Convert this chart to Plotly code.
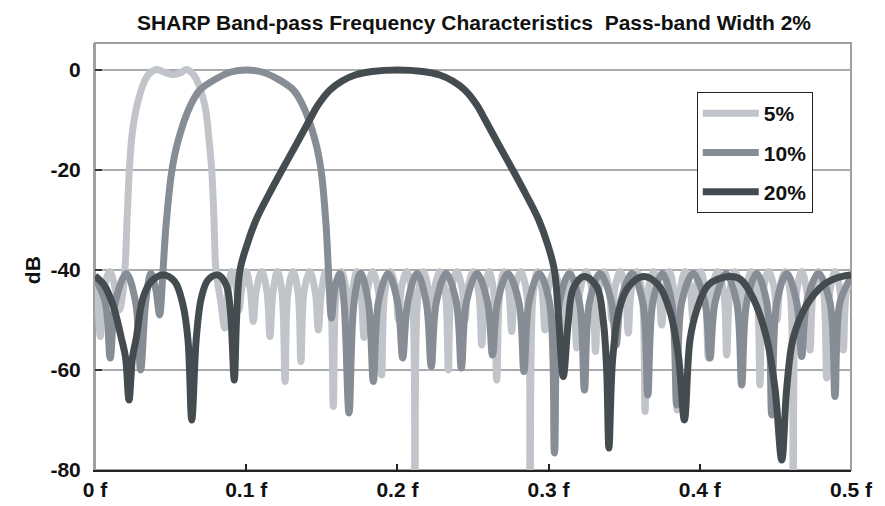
import plotly.graph_objects as go

# ---------------- data ----------------
freq_5 = [0.0000, 0.0017, 0.0035, 0.0053, 0.0097, 0.0132, 0.0162, 0.0182,
          0.0198, 0.0212, 0.0227, 0.0245, 0.0276, 0.0331, 0.0364, 0.0408,
          0.0463, 0.0518, 0.0569, 0.0606, 0.0642, 0.0673, 0.0728, 0.0751,
          0.0772, 0.0787, 0.0800, 0.0830, 0.0858,
          0.0878, 0.0905, 0.0933, 0.0952, 0.0972, 0.1000, 0.1027, 0.1047,
          0.1067, 0.1103, 0.1138, 0.1157, 0.1177, 0.1207, 0.1237, 0.1257,
          0.1276, 0.1310, 0.1343, 0.1362, 0.1382, 0.1420, 0.1457, 0.1477,
          0.1497, 0.1526, 0.1556, 0.1576, 0.1596, 0.1630, 0.1663, 0.1683,
          0.1703, 0.1731, 0.1759, 0.1779, 0.1799, 0.1837, 0.1876, 0.1896,
          0.1916, 0.1952, 0.1987, 0.2007, 0.2027, 0.2062, 0.2097, 0.2116,
          0.2136, 0.2171, 0.2206, 0.2226, 0.2245, 0.2281, 0.2317, 0.2337,
          0.2356, 0.2392, 0.2427, 0.2447, 0.2467, 0.2502, 0.2538, 0.2558,
          0.2577, 0.2607, 0.2637, 0.2657, 0.2677, 0.2706, 0.2736, 0.2756,
          0.2776, 0.2816, 0.2857, 0.2877, 0.2897, 0.2927, 0.2956, 0.2976,
          0.2996, 0.3036, 0.3075, 0.3095, 0.3115, 0.3140, 0.3166, 0.3186,
          0.3206, 0.3248, 0.3290, 0.3310, 0.3330, 0.3365, 0.3399, 0.3419,
          0.3439, 0.3474, 0.3507, 0.3527, 0.3547, 0.3583, 0.3618, 0.3638,
          0.3657, 0.3693, 0.3728, 0.3748, 0.3768, 0.3799, 0.3829, 0.3849,
          0.3869, 0.3902, 0.3935, 0.3955, 0.3975, 0.4006, 0.4036, 0.4056,
          0.4076, 0.4117, 0.4158, 0.4178, 0.4198, 0.4232, 0.4266, 0.4286,
          0.4306, 0.4342, 0.4378, 0.4398, 0.4418, 0.4454, 0.4491, 0.4511,
          0.4530, 0.4565, 0.4599, 0.4618, 0.4638, 0.4674, 0.4709, 0.4729,
          0.4749, 0.4784, 0.4819, 0.4839, 0.4859, 0.4894, 0.4929, 0.4949,
          0.4969, 0.5000]
db_5 = [-43, -46, -53.3, -45, -40.3, -43.5, -48, -45,
        -40, -30, -20, -13, -7.3, -2, -0.6, 0.1,
        -0.5, -0.9, -0.5, 0.1, -0.6, -2, -7.3, -13,
        -20, -30, -40, -46, -51.6,
        -44.5, -40.3, -43.5, -48, -43.5, -40.3, -44, -50.3,
        -44, -40.3, -44.5, -53.3, -44.5, -40.3, -44.5, -62.3,
        -44.5, -40.3, -44.5, -58.3, -44.5, -40.3, -44.5, -52,
        -44.5, -40.3, -44.5, -67.3, -44.5, -40.3, -44.5, -55,
        -44.5, -40.3, -44.5, -53.5, -44.5, -40.3, -44.5, -61,
        -44.5, -40.3, -43.5, -50, -43.5, -40.3, -45, -85,
        -45, -40.3, -44, -52, -44, -40.3, -44.5, -60,
        -44.5, -40.3, -43.5, -50, -43.5, -40.3, -44.5, -55,
        -44.5, -40.3, -44.5, -62, -44.5, -40.3, -44, -52.3,
        -44, -40.3, -45, -85, -45, -40.3, -44, -52,
        -44, -40.3, -44.5, -61, -44.5, -40.3, -44.5, -55.6,
        -44.5, -40.3, -44.5, -56.3, -44.5, -40.3, -43.5, -50,
        -43.5, -40.3, -44, -52.6, -44, -40.3, -44.5, -68.3,
        -44.5, -40.3, -44, -51, -44, -40.3, -44.5, -68,
        -44.5, -40.3, -43.5, -50, -43.5, -40.3, -44.5, -57.6,
        -44.5, -40.3, -44.5, -57, -44.5, -40.3, -43.5, -50,
        -43.5, -40.3, -44.5, -63, -44.5, -40.3, -43.5, -50,
        -43.5, -40.3, -45, -85, -45, -40.3, -44.5, -56,
        -44.5, -40.3, -44.5, -61.6, -44.5, -40.3, -44.5, -56,
        -44.5, -41.5]

freq_10 = [0.0000, 0.0068, 0.0101, 0.0134, 0.0207, 0.0269, 0.0302, 0.0335,
           0.0370, 0.0403, 0.0427, 0.0450, 0.0470, 0.0509, 0.0551, 0.0628,
           0.0694, 0.0805, 0.0899, 0.1000, 0.1104, 0.1202, 0.1312, 0.1378,
           0.1455, 0.1495, 0.1528, 0.1544, 0.1564, 0.1587, 0.1620, 0.1647,
           0.1680, 0.1713, 0.1756, 0.1808, 0.1841, 0.1874, 0.1938, 0.2002,
           0.2035, 0.2068, 0.2130, 0.2191, 0.2224, 0.2257, 0.2323, 0.2390,
           0.2423, 0.2456, 0.2526, 0.2596, 0.2629, 0.2662, 0.2731, 0.2804,
           0.2837, 0.2870, 0.2937, 0.3006, 0.3039, 0.3072, 0.3138, 0.3204,
           0.3237, 0.3270, 0.3340, 0.3413, 0.3446, 0.3479, 0.3552, 0.3623,
           0.3656, 0.3689, 0.3752, 0.3814, 0.3847, 0.3880, 0.3957, 0.4034,
           0.4067, 0.4101, 0.4173, 0.4244, 0.4277, 0.4310, 0.4376, 0.4443,
           0.4476, 0.4509, 0.4575, 0.4641, 0.4674, 0.4707, 0.4784, 0.4861,
           0.4894, 0.4927, 0.5000]
db_10 = [-41.5, -46.5, -57.6, -46.5, -40.7, -46.5, -60, -46.5,
         -40.7, -44, -49, -40, -31, -20, -14, -7.3,
         -4, -1.7, -0.4, 0, -0.4, -1.7, -4, -7.3,
         -14, -20, -31, -40, -49.6, -43.5, -40.7, -46.5,
         -68.6, -46.5, -40.7, -46.5, -62.3, -46.5, -40.7, -46.5,
         -57.6, -46.5, -40.7, -46.5, -59.3, -46.5, -40.7, -46.5,
         -59.6, -46.5, -40.7, -46.5, -57, -46.5, -40.7, -46.5,
         -60.3, -46.5, -40.7, -46.5, -76.6, -46.5, -40.7, -46.5,
         -64, -46.5, -40.7, -46, -55, -46, -40.7, -46.5,
         -65, -46.5, -40.7, -46.5, -67, -46.5, -40.7, -46.5,
         -57.6, -46.5, -40.7, -46.5, -63, -46.5, -40.7, -46.5,
         -69, -46.5, -40.7, -46.5, -57.3, -46.5, -40.7, -46.5,
         -65.3, -46.5, -41.5]

freq_20 = [0.0000, 0.0060, 0.0119, 0.0174, 0.0202, 0.0225, 0.0248, 0.0273,
           0.0317, 0.0372, 0.0450, 0.0527, 0.0582, 0.0615, 0.0640, 0.0670,
           0.0703, 0.0747, 0.0813, 0.0868, 0.0896, 0.0921, 0.0936, 0.0959,
           0.1005, 0.1065, 0.1148, 0.1237, 0.1329, 0.1419, 0.1475, 0.1554,
           0.1634, 0.1720, 0.1832, 0.2000, 0.2168, 0.2280, 0.2366, 0.2446,
           0.2525, 0.2581, 0.2671, 0.2763, 0.2852, 0.2935, 0.2995, 0.3038,
           0.3065, 0.3097,
           0.3130, 0.3163, 0.3234, 0.3318, 0.3362, 0.3384, 0.3399, 0.3423,
           0.3466, 0.3525, 0.3626, 0.3726, 0.3803, 0.3858, 0.3898, 0.3935,
           0.3980, 0.4056, 0.4188, 0.4266, 0.4354, 0.4442, 0.4497, 0.4542,
           0.4575, 0.4618, 0.4707, 0.4817, 0.4914, 0.5000]
db_20 = [-41.2, -43, -47, -53.6, -57.5, -66, -57.5, -53.6,
         -45.6, -42.3, -41, -42.3, -47, -54, -70, -53.6,
         -45.6, -42, -41, -43, -48.5, -62, -50, -40,
         -35, -30, -25, -20, -15, -10, -7, -4,
         -2.2, -1, -0.3, 0, -0.3, -1, -2.2, -4,
         -7, -10, -15, -20, -25, -30, -35, -40,
         -49, -61.3,
         -50.3, -43.7, -41.3, -43.3, -50.3, -60, -75.6, -58,
         -48, -43.5, -41.3, -43, -48.3, -57, -70, -54,
         -48, -43, -41.3, -41.8, -45.7, -53.6, -63.6, -78,
         -63.6, -53.6, -47, -43, -41.5, -41]

series_names = ["5%", "10%", "20%"]
x_tick_vals = [0, 0.1, 0.2, 0.3, 0.4, 0.5]
x_tick_text = ["0 f", "0.1 f", "0.2 f", "0.3 f", "0.4 f", "0.5 f"]
y_tick_vals = [0, -20, -40, -60, -80]
y_tick_text = ["0", "-20", "-40", "-60", "-80"]

# ---------------- figure ----------------
colors = ["#c1c4c9", "#868d94", "#454c4f"]
FONT = "Liberation Sans, Arial, Helvetica, sans-serif"
TXT = "#111111"

fig = go.Figure()
for name, xs, ys, col in zip(series_names, [freq_5, freq_10, freq_20],
                             [db_5, db_10, db_20], colors):
    fig.add_trace(go.Scatter(
        x=xs, y=ys, name=name, legendgroup=name, mode="lines",
        line=dict(color=col, width=7, shape="spline", smoothing=1.0),
    ))

# the page adds an 8px body margin, so figure coords = page coords - 8
fig.update_layout(
    width=885, height=506,
    margin=dict(l=87, r=42, t=35, b=44),
    paper_bgcolor="white", plot_bgcolor="white",
    font=dict(family=FONT, size=21, color=TXT, weight="bold"),
    title=dict(text="SHARP Band-pass Frequency Characteristics  Pass-band Width 2%",
               x=0.5266, xanchor="center", y=0.972, yanchor="middle",
               font=dict(family=FONT, size=21, color=TXT, weight="bold")),
    showlegend=True,
    legend=dict(x=0.796, y=0.885, xanchor="left", yanchor="top",
                bgcolor="white", bordercolor="#222222", borderwidth=1,
                font=dict(family=FONT, size=21, color=TXT, weight="bold"),
                itemwidth=56, tracegroupgap=9, traceorder="grouped"),
    annotations=[dict(text="dB", xref="paper", yref="paper",
                      x=-0.0833, y=0.468, textangle=-90, showarrow=False,
                      xanchor="center", yanchor="middle",
                      font=dict(family=FONT, size=21, color=TXT, weight="bold"))],
)
fig.update_xaxes(
    range=[0, 0.5], tickvals=x_tick_vals, ticktext=x_tick_text,
    showgrid=False, zeroline=False, automargin=False,
    showline=True, linecolor="#222222", linewidth=2,
    ticks="inside", ticklen=6, tickwidth=1.5, tickcolor="#222222",
    ticklabelstandoff=0,
    tickfont=dict(family=FONT, size=21, color=TXT, weight="bold"),
)
fig.update_yaxes(
    range=[-80, 5.4], tickvals=y_tick_vals, ticktext=y_tick_text,
    showgrid=True, gridcolor="#a9abad", gridwidth=2, zeroline=False,
    automargin=False,
    showline=True, linecolor="#a0a0a0", linewidth=2,
    ticks="inside", ticklen=7, tickwidth=2, tickcolor="#333333",
    ticklabelstandoff=8,
    tickfont=dict(family=FONT, size=21, color=TXT, weight="bold"),
)
# plot frame (top / right)
fig.add_shape(type="rect", xref="paper", yref="paper", x0=0, x1=1, y0=0, y1=1,
              line=dict(color="#a0a0a0", width=2), layer="below")

fig.write_html("out.html")
